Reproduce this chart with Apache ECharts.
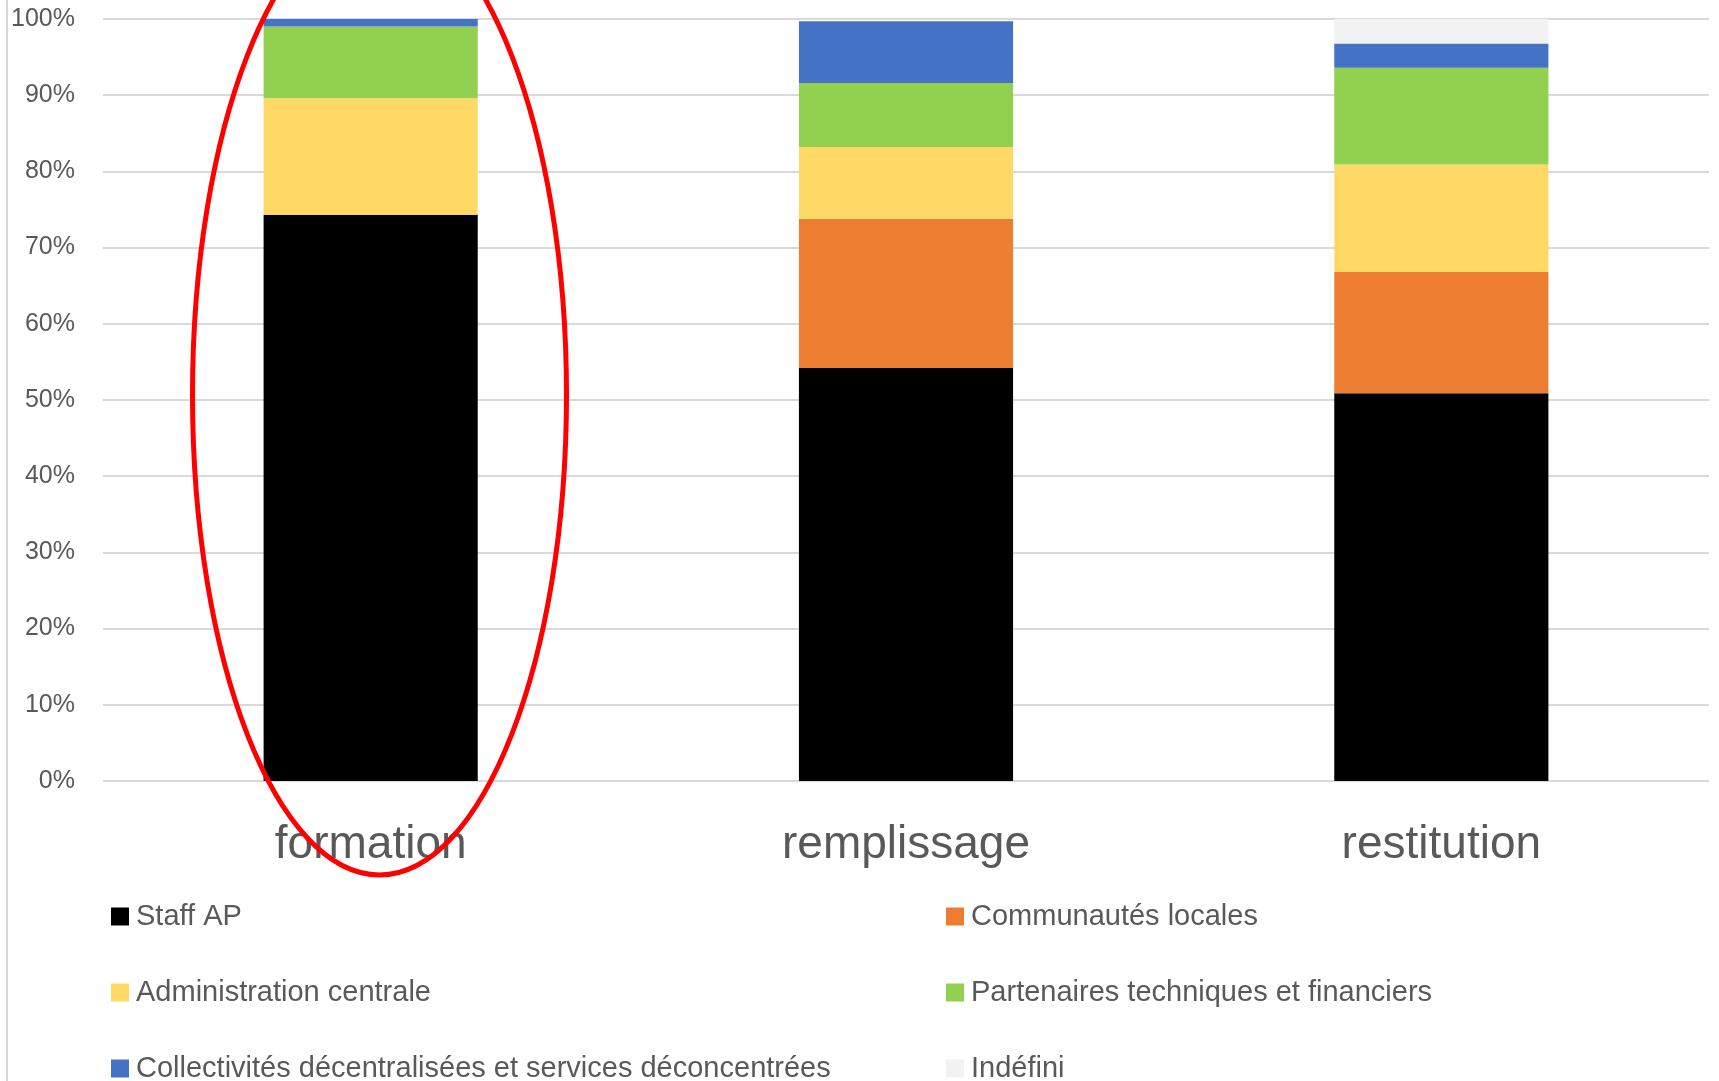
<!DOCTYPE html>
<html>
<head>
<meta charset="UTF-8">
<title>Profil des participants</title>
<script src="https://cdn.jsdelivr.net/npm/echarts/dist/echarts.min.js" type="text/javascript"></script>
<style>
  html, body { margin: 0; padding: 0; background: #fff; }
  #chart { width: 1719px; height: 1081px; }
</style>
</head>
<body>
<div id="chart"></div>
<script type="text/javascript">
	// etapes (axe x)
	var categories = ['formation', 'remplissage', 'restitution'];

	// parts en % par type d'acteur
	var staffAP        = [74.3, 54.2, 50.9];
	var communautes    = [0,    19.6, 15.9];
	var administration = [15.3, 9.4,  14.1];
	var partenaires    = [9.4,  8.4,  12.7];
	var collectivites  = [1.0,  8.1,  3.2];
	var indefini       = [0,    0,    3.2];

	var yTicks = [0, 10, 20, 30, 40, 50, 60, 70, 80, 90, 100];

	var font = '"Liberation Sans", Arial, sans-serif';
	var grey = '#595959';

	function serie(name, data, color) {
		return {
			name: name,
			type: 'bar',
			stack: 'total',
			barWidth: '40%',
			itemStyle: { color: color },
			data: data
		};
	}

	function legende(left, names) {
		return {
			orient: 'vertical',
			left: left, top: 902, height: 300, padding: 0,
			itemWidth: 18, itemHeight: 18, itemGap: 47,
			icon: 'rect',
			textStyle: { fontSize: 29, color: grey, fontFamily: font, padding: [0, 0, 0, 2] },
			data: names
		};
	}

	var myChart = echarts.init(document.getElementById('chart'));

	var option = {
		animation: false,
		backgroundColor: '#ffffff',
		textStyle: { fontFamily: font },
		grid: { left: 103, right: 10, top: 19, bottom: 300 },
		legend: [
			legende(111, ['Staff AP', 'Administration centrale', 'Collectivités décentralisées et services déconcentrées']),
			legende(946, ['Communautés locales', 'Partenaires techniques et financiers', 'Indéfini'])
		],
		xAxis: {
			type: 'category',
			data: categories,
			axisLine: { show: false },
			axisTick: { show: false },
			axisLabel: { fontSize: 46, color: grey, margin: 41, fontFamily: font }
		},
		yAxis: {
			type: 'value',
			min: yTicks[0],
			max: yTicks[yTicks.length - 1],
			interval: 10,
			axisLine: { show: false },
			axisTick: { show: false },
			axisLabel: { fontSize: 25, color: grey, margin: 28, formatter: '{value}%', fontFamily: font },
			splitLine: { lineStyle: { color: '#d9d9d9', width: 2 } }
		},
		series: [
			serie('Staff AP', staffAP, '#000000'),
			serie('Communautés locales', communautes, '#ED7D31'),
			serie('Administration centrale', administration, '#FFD966'),
			serie('Partenaires techniques et financiers', partenaires, '#92D050'),
			serie('Collectivités décentralisées et services déconcentrées', collectivites, '#4472C4'),
			serie('Indéfini', indefini, '#F2F2F2')
		],
		graphic: [
			{
				// bord gauche de la zone graphique
				type: 'line',
				shape: { x1: 7, y1: 0, x2: 7, y2: 1081 },
				style: { stroke: '#d9d9d9', lineWidth: 2 }
			},
			{
				// entourage rouge autour de "formation"
				type: 'ellipse',
				z: 100,
				shape: { cx: 379.5, cy: 395, rx: 187, ry: 480 },
				style: { fill: null, stroke: '#FF0000', lineWidth: 5 }
			}
		]
	};

	myChart.setOption(option);
</script>
</body>
</html>
